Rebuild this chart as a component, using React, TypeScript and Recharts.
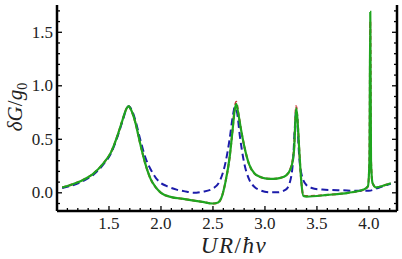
import { LineChart, Line, XAxis, YAxis, Label } from 'recharts';

// values: [UR/ħv, δG/g0]
const greenCurve: [number, number][] = [
  [1.05, 0.05], [1.15, 0.08], [1.25, 0.12], [1.35, 0.18], [1.45, 0.28],
  [1.52, 0.38], [1.58, 0.53], [1.63, 0.68], [1.67, 0.79], [1.69, 0.81],
  [1.71, 0.78], [1.75, 0.67], [1.8, 0.46], [1.85, 0.27], [1.9, 0.13],
  [1.95, 0.05], [2.0, 0.0], [2.1, -0.04], [2.2, -0.055], [2.3, -0.07],
  [2.4, -0.085], [2.5, -0.1], [2.55, -0.09], [2.58, -0.05], [2.62, 0.1],
  [2.66, 0.33], [2.69, 0.6], [2.71, 0.78], [2.725, 0.83], [2.74, 0.76],
  [2.77, 0.59], [2.8, 0.44], [2.85, 0.26], [2.9, 0.18], [2.95, 0.15],
  [3.0, 0.135], [3.08, 0.13], [3.15, 0.14], [3.2, 0.16], [3.25, 0.23],
  [3.28, 0.4], [3.3, 0.79], [3.31, 0.72], [3.33, 0.4], [3.35, 0.1],
  [3.37, -0.03], [3.4, -0.035], [3.6, -0.02], [3.8, 0.0], [3.95, 0.03],
  [3.99, 0.06], [4.005, 0.3], [4.013, 1.69], [4.02, 0.3], [4.035, 0.09],
  [4.07, 0.05], [4.15, 0.07], [4.21, 0.09],
];

const redCurve: [number, number][] = [
  [1.05, 0.05], [1.15, 0.08], [1.25, 0.12], [1.35, 0.18], [1.45, 0.28],
  [1.52, 0.38], [1.58, 0.53], [1.63, 0.68], [1.67, 0.79], [1.69, 0.81],
  [1.71, 0.78], [1.75, 0.67], [1.8, 0.46], [1.85, 0.27], [1.9, 0.13],
  [1.95, 0.05], [2.0, 0.0], [2.1, -0.04], [2.2, -0.055], [2.3, -0.07],
  [2.4, -0.085], [2.5, -0.1], [2.55, -0.09], [2.58, -0.05], [2.62, 0.1],
  [2.66, 0.33], [2.69, 0.6], [2.71, 0.8], [2.725, 0.85], [2.74, 0.77],
  [2.77, 0.59], [2.8, 0.44], [2.85, 0.26], [2.9, 0.18], [2.95, 0.15],
  [3.0, 0.135], [3.08, 0.13], [3.15, 0.14], [3.2, 0.16], [3.25, 0.24],
  [3.28, 0.42], [3.3, 0.81], [3.31, 0.73], [3.33, 0.4], [3.35, 0.1],
  [3.37, -0.025], [3.4, -0.03], [3.6, -0.02], [3.8, 0.0], [3.95, 0.03],
  [3.99, 0.06], [4.005, 0.3], [4.013, 1.6], [4.02, 0.3], [4.035, 0.09],
  [4.07, 0.05], [4.15, 0.07], [4.21, 0.09],
];

const blueCurve: [number, number][] = [
  [1.05, 0.045], [1.15, 0.07], [1.25, 0.11], [1.35, 0.17], [1.45, 0.27],
  [1.52, 0.37], [1.58, 0.52], [1.63, 0.67], [1.67, 0.79], [1.69, 0.81],
  [1.71, 0.79], [1.75, 0.69], [1.8, 0.5], [1.85, 0.33], [1.9, 0.22],
  [1.95, 0.14], [2.0, 0.09], [2.05, 0.065], [2.15, 0.03], [2.25, 0.01],
  [2.31, 0.0], [2.4, 0.01], [2.5, 0.04], [2.57, 0.12], [2.62, 0.28],
  [2.66, 0.5], [2.69, 0.71], [2.71, 0.8], [2.73, 0.76], [2.76, 0.52],
  [2.8, 0.28], [2.85, 0.12], [2.9, 0.055], [2.95, 0.025], [3.05, 0.005],
  [3.12, 0.005], [3.2, 0.03], [3.24, 0.1], [3.27, 0.3], [3.29, 0.65],
  [3.3, 0.77], [3.31, 0.68], [3.33, 0.33], [3.35, 0.18], [3.4, 0.07],
  [3.45, 0.045], [3.55, 0.03], [3.7, 0.025], [3.85, 0.02], [4.0, 0.02],
  [4.1, 0.05], [4.21, 0.085],
];

const xTicks = [
  1.1, 1.2, 1.3, 1.4, 1.5, 1.6, 1.7, 1.8, 1.9, 2.0, 2.1, 2.2, 2.3, 2.4, 2.5, 2.6,
  2.7, 2.8, 2.9, 3.0, 3.1, 3.2, 3.3, 3.4, 3.5, 3.6, 3.7, 3.8, 3.9, 4.0, 4.1, 4.2,
];
const yTicks = [
  -0.1, 0.0, 0.1, 0.2, 0.3, 0.4, 0.5, 0.6, 0.7, 0.8, 0.9, 1.0, 1.1, 1.2, 1.3, 1.4,
  1.5, 1.6, 1.7,
];

const toPoints = (c: [number, number][]) => c.map(([x, y]) => ({ x, y }));

const serif = { fontFamily: "'Liberation Serif', 'DejaVu Serif', 'Times New Roman', serif" };
const frame = { stroke: '#000', strokeWidth: 2.5 };

const isMajor = (v: number) => Math.abs(v * 2 - Math.round(v * 2)) < 1e-6;

// ticks point inward on every side of the frame, like the original
const makeTick = (side: 'bottom' | 'top' | 'left' | 'right') => (props: any) => {
  const { x, y, payload } = props;
  const v: number = payload.value;
  const len = isMajor(v) ? 5 : 3;
  let x2 = x;
  let y2 = y;
  if (side === 'bottom') y2 = y - len;
  if (side === 'top') y2 = y + len;
  if (side === 'left') x2 = x + len;
  if (side === 'right') x2 = x - len;
  return (
    <g>
      <line x1={x} y1={y} x2={x2} y2={y2} stroke="#000" strokeWidth={1.3} />
      {side === 'bottom' && isMajor(v) && (
        <text x={x} y={y + 18} textAnchor="middle" style={serif} fontSize={17} fill="#222">
          {v.toFixed(1)}
        </text>
      )}
      {side === 'left' && isMajor(v) && (
        <text x={x - 4} y={y + 5.5} textAnchor="end" style={serif} fontSize={17} fill="#222">
          {v.toFixed(1)}
        </text>
      )}
    </g>
  );
};

const App = () => {
  return (
    <div style={{ position: 'absolute', left: 0, top: 0, background: '#fff' }}>
      <LineChart width={402} height={259} margin={{ top: 5, right: 0, bottom: 0, left: 0 }}>
        <XAxis
          dataKey="x"
          type="number"
          domain={[1.0, 4.27]}
          ticks={xTicks}
          interval={0}
          allowDataOverflow
          height={48}
          tickSize={0}
          tickMargin={0}
          tickLine={false}
          axisLine={frame}
          tick={makeTick('bottom')}
        >
          <Label
            content={() => (
              <text x={234} y={253} textAnchor="middle" style={serif} fontSize={23} fill="#222" fontStyle="italic" letterSpacing={1.5}>
                UR<tspan fontStyle="normal">/</tspan>ħv
              </text>
            )}
          />
        </XAxis>
        <XAxis
          xAxisId="top"
          orientation="top"
          type="number"
          domain={[1.0, 4.27]}
          ticks={xTicks}
          interval={0}
          allowDataOverflow
          height={0}
          tickSize={0}
          tickMargin={0}
          tickLine={false}
          axisLine={frame}
          tick={makeTick('top')}
        />
        <YAxis
          type="number"
          domain={[-0.17, 1.755]}
          ticks={yTicks}
          interval={0}
          allowDataOverflow
          width={57}
          tickSize={0}
          tickMargin={0}
          tickLine={false}
          axisLine={frame}
          tick={makeTick('left')}
        >
          <Label
            content={() => (
              <text
                transform="translate(22,107) rotate(-90)"
                textAnchor="middle"
                style={serif}
                fontSize={21}
                fill="#222"
                fontStyle="italic"
              >
                δG<tspan fontStyle="normal">/</tspan>g<tspan fontStyle="normal" fontSize={14} dy={5}>0</tspan>
              </text>
            )}
          />
        </YAxis>
        <YAxis
          yAxisId="right"
          orientation="right"
          type="number"
          domain={[-0.17, 1.755]}
          ticks={yTicks}
          interval={0}
          allowDataOverflow
          width={5}
          tickSize={0}
          tickMargin={0}
          tickLine={false}
          axisLine={frame}
          tick={makeTick('right')}
        />
        <Line
          data={toPoints(redCurve)}
          dataKey="y"
          type="monotone"
          stroke="#c8282a"
          strokeWidth={2}
          strokeDasharray="4 3"
          dot={false}
          isAnimationActive={false}
        />
        <Line
          data={toPoints(blueCurve)}
          dataKey="y"
          type="monotone"
          stroke="#1c1caa"
          strokeWidth={2}
          strokeDasharray="7 4"
          dot={false}
          isAnimationActive={false}
        />
        <Line
          data={toPoints(greenCurve)}
          dataKey="y"
          type="monotone"
          stroke="#1fa51f"
          strokeWidth={2.2}
          dot={false}
          isAnimationActive={false}
        />
      </LineChart>
    </div>
  );
};

export default App;
